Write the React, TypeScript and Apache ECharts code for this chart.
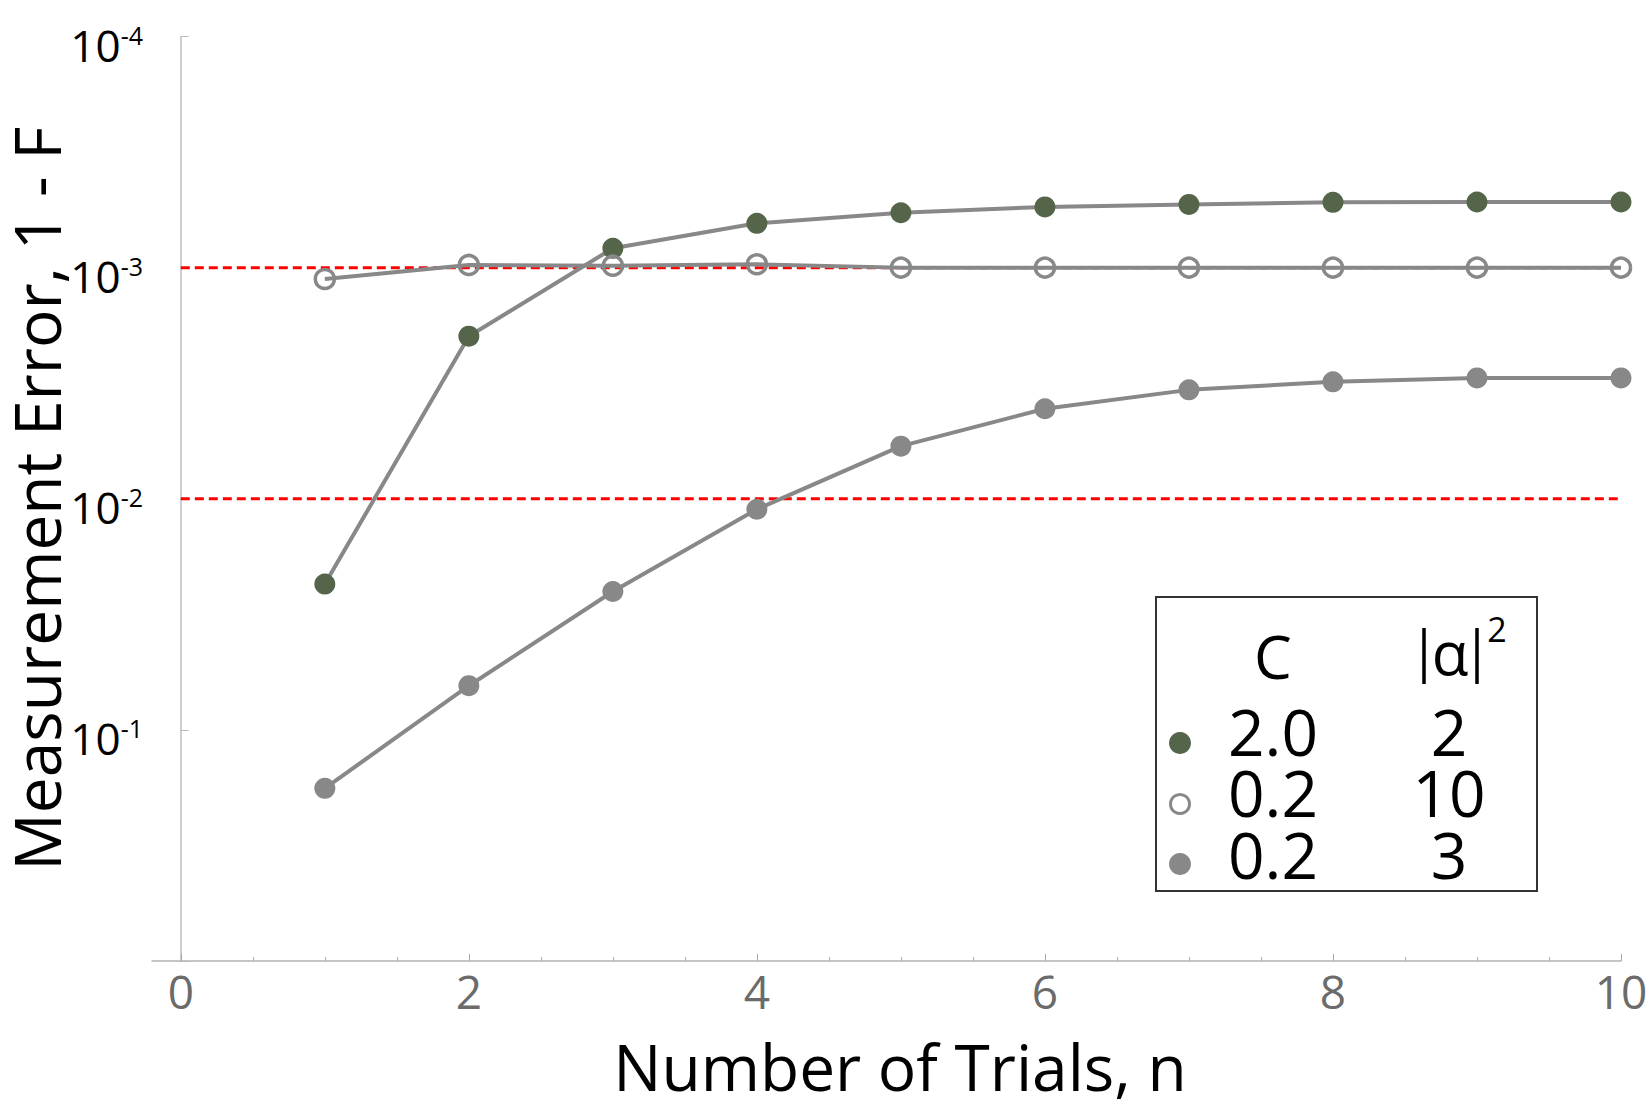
import React, { useEffect, useRef } from "react";
import * as echarts from "echarts";

// Number of trials n and the measurement error 1 - F for each (C, |α|²) setting
const trials = [1, 2, 3, 4, 5, 6, 7, 8, 9, 10];
const errC20A2 = [0.0234, 0.00198, 0.000825, 0.000643, 0.000579, 0.000546, 0.000533, 0.000522, 0.00052, 0.00052];
const errC02A10 = [0.00112, 0.000974, 0.000981, 0.000967, 0.001, 0.001, 0.001, 0.001, 0.001, 0.001];
const errC02A3 = [0.179, 0.0644, 0.0252, 0.0111, 0.00592, 0.00408, 0.00338, 0.00312, 0.003, 0.003];

// Reference error levels drawn as dashed lines
const thresholds = [1e-3, 1e-2];

// Axis ticks
const xMajorTicks = [0, 2, 4, 6, 8, 10];
const xMinorTicks = [0.5, 1, 1.5, 2.5, 3, 3.5, 4.5, 5, 5.5, 6.5, 7, 7.5, 8.5, 9, 9.5];

// Legend table
const legendC = ["2.0", "0.2", "0.2"];
const legendAlpha = ["2", "10", "3"];

const FONT = "Open Sans";
const GREEN = "#55654a";
const GRAY = "#888888";

export default function App() {
  const ref = useRef<HTMLDivElement>(null);

  useEffect(() => {
    if (!ref.current) return;
    const chart = echarts.init(ref.current, null, { renderer: "svg" });

    const series: any[] = thresholds.map((t) => ({
      type: "line",
      data: [
        [0, t],
        [10, t],
      ],
      symbol: "none",
      silent: true,
      z: 1,
      lineStyle: { color: "#ff0000", width: 3, type: [9, 5] },
    }));

    series.push(
      {
        type: "line",
        name: "C=2.0",
        data: trials.map((n, i) => [n, errC20A2[i]]),
        symbol: "circle",
        symbolSize: 21,
        z: 3,
        lineStyle: { color: GRAY, width: 4 },
        itemStyle: { color: GREEN },
      },
      {
        type: "line",
        name: "C=0.2 a10",
        data: trials.map((n, i) => [n, errC02A10[i]]),
        symbol: "circle",
        symbolSize: 19,
        z: 3,
        lineStyle: { color: GRAY, width: 4 },
        itemStyle: { color: "rgba(0,0,0,0)", borderColor: GRAY, borderWidth: 3.5 },
      },
      {
        type: "line",
        name: "C=0.2 a3",
        data: trials.map((n, i) => [n, errC02A3[i]]),
        symbol: "circle",
        symbolSize: 21,
        z: 3,
        lineStyle: { color: GRAY, width: 4 },
        itemStyle: { color: GRAY },
      }
    );

    // Legend table
    const rowY = [731, 792, 854];
    const markY = [743, 804, 864];
    const legendChildren: any[] = [
      {
        type: "rect",
        shape: { x: 1156, y: 597, width: 381, height: 294 },
        style: { fill: "#fff", stroke: "#333", lineWidth: 2 },
      },
      {
        type: "text",
        style: { text: "C", x: 1273, y: 656, fontSize: 60, lineHeight: 50, fontFamily: FONT, fill: "#000", align: "center", verticalAlign: "middle" },
      },
      // |α|² header: α with two vertical bars and a superscript 2
      {
        type: "text",
        style: { text: "α", x: 1450, y: 652, fontSize: 60, lineHeight: 50, fontFamily: FONT, fill: "#000", align: "center", verticalAlign: "middle" },
      },
      { type: "line", shape: { x1: 1424, y1: 628, x2: 1424, y2: 684 }, style: { stroke: "#000", lineWidth: 3.5 } },
      { type: "line", shape: { x1: 1477, y1: 628, x2: 1477, y2: 684 }, style: { stroke: "#000", lineWidth: 3.5 } },
      {
        type: "text",
        style: { text: "2", x: 1497, y: 629, fontSize: 34, lineHeight: 28, fontFamily: FONT, fill: "#000", align: "center", verticalAlign: "middle" },
      },
    ];
    legendC.forEach((c, i) => {
      legendChildren.push(
        {
          type: "text",
          style: { text: c, x: 1273, y: rowY[i], fontSize: 64, lineHeight: 56, fontFamily: FONT, fill: "#000", align: "center", verticalAlign: "middle" },
        },
        {
          type: "text",
          style: { text: legendAlpha[i], x: 1449, y: rowY[i], fontSize: 64, lineHeight: 56, fontFamily: FONT, fill: "#000", align: "center", verticalAlign: "middle" },
        }
      );
    });
    legendChildren.push(
      { type: "circle", shape: { cx: 1180, cy: markY[0], r: 11 }, style: { fill: GREEN } },
      { type: "circle", shape: { cx: 1180, cy: markY[1], r: 9.5 }, style: { fill: "#fff", stroke: GRAY, lineWidth: 3 } },
      { type: "circle", shape: { cx: 1180, cy: markY[2], r: 11 }, style: { fill: GRAY } }
    );

    chart.setOption({
      animation: false,
      backgroundColor: "#fff",
      textStyle: { fontFamily: FONT },
      grid: { left: 152, right: 28, top: 36.5, bottom: 150, containLabel: false, outerBoundsMode: "none" },
      xAxis: [
        {
          type: "value",
          min: -0.2,
          max: 10,
          name: "Number of Trials, n",
          nameLocation: "middle",
          nameGap: 73,
          nameMoveOverlap: false,
          nameTextStyle: { fontSize: 64, color: "#000", fontFamily: FONT, padding: [0, 0, 0, 27] },
          axisLine: { lineStyle: { color: "#b3b3b3", width: 1.5 } },
          axisTick: { inside: true, length: 7, customValues: xMajorTicks, lineStyle: { color: "#aaa" } },
          axisLabel: { customValues: xMajorTicks, fontSize: 46, color: "#6b6b6b", fontFamily: FONT, margin: 7 },
          splitLine: { show: false },
        },
        {
          type: "value",
          min: -0.2,
          max: 10,
          position: "bottom",
          axisLine: { show: false },
          axisTick: { inside: true, length: 4, customValues: xMinorTicks, lineStyle: { color: "#aaa" } },
          axisLabel: { show: false },
          splitLine: { show: false },
        },
      ],
      yAxis: {
        type: "log",
        logBase: 10,
        min: 1e-4,
        max: 1,
        inverse: true,
        name: "Measurement Error, 1 - F",
        nameLocation: "middle",
        nameGap: 84,
        nameMoveOverlap: false,
        nameTextStyle: { fontSize: 64, color: "#000", fontFamily: FONT },
        axisLine: { onZero: true, lineStyle: { color: "#bdbdbd", width: 1.5 } },
        axisTick: { inside: true, length: 8, lineStyle: { color: "#bbb" } },
        splitLine: { show: false },
        axisLabel: {
          margin: 9,
          fontSize: 44,
          fontFamily: FONT,
          color: "#000",
          padding: [16, 0, 0, 0],
          formatter: (v: number) => {
            const e = Math.round(Math.log10(v));
            if (e === 0) return "";
            return `{b|10}{s|${e}}`;
          },
          rich: {
            b: { fontSize: 44, color: "#000", fontFamily: FONT },
            s: { fontSize: 25, color: "#000", fontFamily: FONT, verticalAlign: "top" },
          },
        },
      },
      series,
      graphic: [{ type: "group", children: legendChildren, z: 100 }],
    });

    return () => chart.dispose();
  }, []);

  return <div ref={ref} style={{ position: "fixed", left: 0, top: 0, width: 1649, height: 1111 }} />;
}
